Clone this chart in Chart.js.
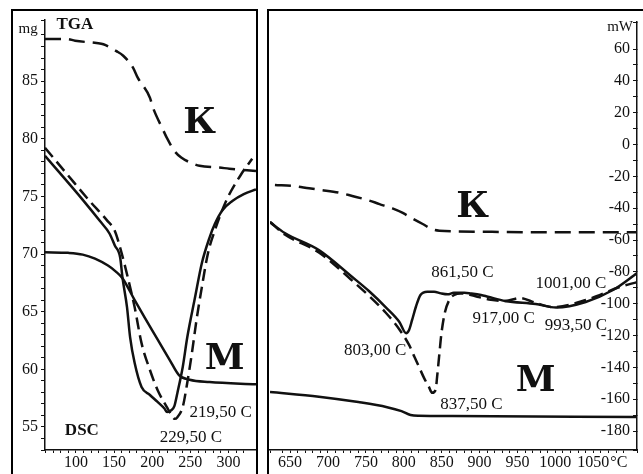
<!DOCTYPE html>
<html><head><meta charset="utf-8">
<script src="https://cdn.jsdelivr.net/npm/chart.js@4.4.1/dist/chart.umd.min.js"></script>
<style>
html,body{margin:0;padding:0;background:#fff;}
body{width:643px;height:474px;position:relative;overflow:hidden;}
#lw{position:absolute;left:0;top:0;width:258px;height:474px;}
#rw{position:absolute;left:258px;top:0;width:385px;height:474px;}
.frame{position:absolute;border:2.5px solid #000;box-sizing:border-box;pointer-events:none;}
</style></head><body>
<div id="lw"><canvas id="lc"></canvas></div>
<div id="rw"><canvas id="rc"></canvas></div>
<div class="frame" style="left:11px;top:8.5px;width:247px;height:480px;"></div>
<div class="frame" style="left:267px;top:9px;width:400px;height:480px;"></div>
<script>
// ---------- LEFT PANEL DATA (°C vs mg) ----------
const leftTgaK_T = [59.5, 88, 99, 127, 136, 153, 162, 175, 181, 197, 201, 214, 219, 229, 238, 253, 262, 288, 301, 336];
const leftTgaK_V = [88.66, 88.66, 88.5, 88.3, 88.2, 87.6, 87.2, 86.15, 85.3, 83.56, 82.7, 80.8, 80.1, 78.95, 78.37, 77.85, 77.65, 77.5, 77.4, 77.2];
const leftTgaM_T = [59.5, 90, 109, 125, 142, 152, 161, 177, 190, 207, 223, 235, 249, 275, 336];
const leftTgaM_V = [70.15, 70.1, 69.95, 69.6, 69.0, 68.5, 67.9, 66.0, 64.5, 62.6, 60.8, 59.5, 59.1, 58.9, 58.7];
const leftDscM_T = [59.5, 109, 131, 144, 151, 158, 161, 167, 171, 177, 186, 197, 207, 216, 219.5, 225, 229, 233, 240, 246, 256, 265, 275, 282, 292, 305, 320, 336];
const leftDscM_V = [78.52, 74.7, 72.9, 71.78, 70.74, 69.7, 67.97, 65.38, 62.79, 60.54, 58.47, 57.77, 57.17, 56.6, 56.3, 56.45, 56.8, 57.95, 60.2, 62.8, 66.2, 69.2, 71.4, 72.6, 73.8, 74.6, 75.2, 75.6];
const leftDscK_T = [59.5, 88, 118, 141, 151, 160, 168, 177, 186, 197, 207, 219, 227, 229.5, 233, 240, 245, 252, 258, 265, 273, 282, 297, 317, 331];
const leftDscK_V = [79.21, 76.96, 74.6, 72.9, 72.0, 70.05, 67.97, 65.38, 62.27, 59.94, 58.21, 56.74, 55.85, 55.7, 55.85, 56.74, 58.47, 61.4, 64.26, 67.11, 70.05, 72.04, 74.63, 76.96, 78.26];
const leftXLabels = [100, 150, 200, 250, 300];
const leftYLabels = [55, 60, 65, 70, 75, 80, 85];
const leftNoteText = ['TGA', 'К', 'М', 'DSC', '219,50 C', '229,50 C', 'mg'];
const leftNoteX = [98.7, 262, 294.8, 107.8, 249, 209.8, 37.3];
const leftNoteY = [89.93, 81.28, 60.8, 54.66, 56.22, 54.1, 89.5];

// ---------- RIGHT PANEL DATA (°C vs mW) ----------
const rightDscM_T = [623.5, 643, 688, 732, 754, 776, 794, 803, 807, 811, 816, 822, 831, 840, 849, 858, 866, 880, 888, 902, 911, 934, 974, 1001, 1040, 1076, 1108];
const rightDscM_V = [-48.7, -55.6, -66.3, -83.2, -92.0, -102.1, -111.3, -118.5, -116.5, -110.2, -101.9, -94.5, -92.4, -92.4, -93.5, -94.1, -93.1, -93.1, -93.5, -94.5, -95.6, -98.3, -100.2, -102.4, -98.9, -91.4, -80.7];
const rightDscK_T = [623.5, 643, 688, 732, 754, 776, 794, 807, 814, 820, 827, 833, 837.5, 842, 844, 846.6, 849.7, 854, 860, 866.5, 875, 884, 897, 915, 934, 953, 974, 997, 1040, 1085, 1108];
const rightDscK_V = [-48.7, -56.5, -67.8, -85.5, -95, -105.5, -116, -125.9, -133.3, -139.6, -146.9, -152.1, -156, -154.2, -145.8, -133.3, -118.6, -106, -97.7, -94.5, -93.5, -93.9, -95.6, -97.5, -98.3, -96.4, -99.5, -102.1, -97.7, -89.5, -86.4];
const rightTgaK_T = [630, 656, 675, 692, 715, 732, 752, 768, 785, 798, 811, 825, 838, 847, 908, 997, 1108];
const rightTgaK_V = [-25.4, -26.1, -27.5, -28.6, -30.3, -32.3, -34.8, -37.4, -40.1, -42.8, -46.3, -49.9, -53.3, -54.1, -54.8, -55.1, -55.1];
const rightTgaM_T = [623.5, 688, 740, 778, 797, 809, 820, 864, 1108];
const rightTgaM_V = [-155.5, -158.4, -161.8, -165, -167.5, -169.9, -170.4, -170.6, -171.2];
const rightXLabels = [650, 700, 750, 800, 850, 900, 950, 1000, 1050];
const rightYLabels = [60, 40, 20, 0, -20, -40, -60, -80, -100, -120, -140, -160, -180];
const rightNoteText = ['mW', 'К', 'М', '861,50 C', '1001,00 C', '917,00 C', '993,50 C', '803,00 C', '837,50 C'];
const rightNoteX = [1102.4, 890.7, 974, 877.5, 1020.4, 931.7, 1027, 762.4, 889.4];
const rightNoteY = [73.8, -39.9, -149.2, -80.7, -87.0, -109.0, -113.4, -129.7, -163.6];

// ---------- helpers ----------
const SERIF = "'Liberation Serif', 'Times New Roman', serif";
const INK = '#111';
const pts = (xs, ys) => xs.map((x, i) => ({x: x, y: ys[i]}));
const ds = (label, xs, ys, dash) => ({
  label: label, data: pts(xs, ys), borderColor: INK, borderWidth: 2.5,
  borderDash: dash || [], pointRadius: 0, fill: false, cubicInterpolationMode: 'monotone'
});
function noteStyle(t) {
  if (t === 'К' || t === 'М') return "bold 36px 'DejaVu Serif', serif";
  if (t === 'TGA' || t === 'DSC') return "bold 17px " + SERIF;
  if (t === 'mg' || t === 'mW') return "15px " + SERIF;
  return "17px " + SERIF;
}
const notesPlugin = {
  id: 'notes',
  afterDraw(chart, args, opts) {
    const ctx = chart.ctx, xs = chart.scales.x, ys = chart.scales.y;
    ctx.save();
    ctx.fillStyle = INK;
    ctx.textBaseline = 'middle';
    opts.text.forEach((t, i) => {
      ctx.font = noteStyle(t);
      ctx.textAlign = (t === 'mW') ? 'right' : ((t === '219,50 C' || t === '229,50 C') ? 'left' : 'center');
      ctx.fillText(t, xs.getPixelForValue(opts.x[i]), ys.getPixelForValue(opts.y[i]));
    });
    if (opts.unit) {
      ctx.font = "16px " + SERIF;
      ctx.textAlign = 'left';
      ctx.fillText(opts.unit, xs.getPixelForValue(opts.unitAt) + 17, xs.top + 3 + 9.6);
    }
    ctx.restore();
  }
};
const tickFont = {family: SERIF, size: 16};

// ---------- LEFT CHART ----------
new Chart(document.getElementById('lc'), {
  type: 'line',
  data: {datasets: [
    ds('К TGA', leftTgaK_T, leftTgaK_V, [16, 8]),
    ds('М TGA', leftTgaM_T, leftTgaM_V),
    ds('М DSC', leftDscM_T, leftDscM_V),
    ds('К DSC', leftDscK_T, leftDscK_V, [12, 6])
  ]},
  options: {
    responsive: true, maintainAspectRatio: false, animation: false,
    layout: {padding: {left: 12, right: 2, top: 20, bottom: 0}},
    plugins: {legend: {display: false}, tooltip: {enabled: false},
      notes: {text: leftNoteText, x: leftNoteX, y: leftNoteY}},
    scales: {
      x: {type: 'linear', min: 59.5, max: 336, position: 'bottom',
        ticks: {stepSize: 10, autoSkip: false, maxRotation: 0, padding: 0, font: tickFont, color: INK,
          callback: v => leftXLabels.includes(v) ? String(v) : ''},
        grid: {drawOnChartArea: false, drawTicks: true, tickLength: 3, color: INK, lineWidth: 1},
        border: {display: true, color: INK, width: 1.5},
        afterFit: s => { s.height = 24; }},
      y: {type: 'linear', min: 53, max: 90.3, position: 'left',
        ticks: {stepSize: 1, autoSkip: false, padding: 3, font: tickFont, color: INK,
          callback: v => leftYLabels.includes(v) ? String(v) : ''},
        grid: {drawOnChartArea: false, drawTicks: true, tickLength: 4, color: INK, lineWidth: 1},
        border: {display: true, color: INK, width: 1.5},
        afterFit: s => { s.width = 33; }}
    }
  },
  plugins: [notesPlugin]
});

// ---------- RIGHT CHART ----------
new Chart(document.getElementById('rc'), {
  type: 'line',
  data: {datasets: [
    ds('К TGA', rightTgaK_T, rightTgaK_V, [16, 8]),
    ds('М TGA', rightTgaM_T, rightTgaM_V),
    ds('М DSC', rightDscM_T, rightDscM_V),
    ds('К DSC', rightDscK_T, rightDscK_V, [12, 6])
  ]},
  options: {
    responsive: true, maintainAspectRatio: false, animation: false,
    layout: {padding: {left: 12, right: 2, top: 22, bottom: 0}},
    plugins: {legend: {display: false}, tooltip: {enabled: false},
      notes: {text: rightNoteText, x: rightNoteX, y: rightNoteY, unit: '°C', unitAt: 1050}},
    scales: {
      x: {type: 'linear', min: 623.5, max: 1107.7, position: 'bottom',
        ticks: {stepSize: 10, autoSkip: false, maxRotation: 0, padding: 0, font: tickFont, color: INK,
          callback: v => rightXLabels.includes(v) ? String(v) : ''},
        grid: {drawOnChartArea: false, drawTicks: true, tickLength: 3, color: INK, lineWidth: 1},
        border: {display: true, color: INK, width: 1.5},
        afterFit: s => { s.height = 24; }},
      y: {type: 'linear', min: -191.9, max: 77, position: 'right',
        ticks: {stepSize: 10, autoSkip: false, mirror: true, padding: -7, font: tickFont, color: INK,
          callback: v => rightYLabels.includes(v) ? String(v) : ''},
        grid: {drawOnChartArea: false, drawTicks: true, tickLength: -4, color: INK, lineWidth: 1},
        border: {display: true, color: INK, width: 1.5},
        afterFit: s => { s.width = 4; }}
    }
  },
  plugins: [notesPlugin]
});
</script>
</body></html>
